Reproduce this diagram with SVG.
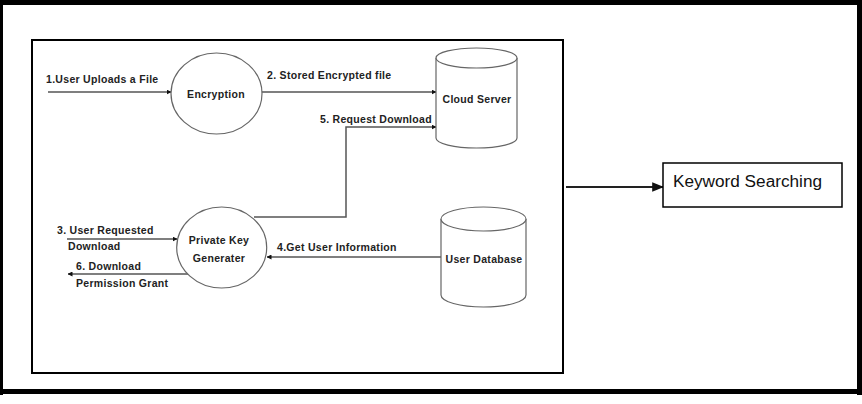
<svg xmlns="http://www.w3.org/2000/svg" width="862" height="404" viewBox="0 0 862 404">
<style>
.lbl{font-family:"Liberation Sans",Arial,sans-serif;font-size:10.5px;font-weight:bold;fill:#222;letter-spacing:0.3px}
.node{fill:#fff;stroke:#666;stroke-width:1.2}
.conn{fill:none;stroke:#555;stroke-width:1.5}
</style>
<defs>
<marker id="ah" viewBox="0 0 10 10" refX="9" refY="5" markerWidth="5" markerHeight="5" markerUnits="userSpaceOnUse" orient="auto"><path d="M0,0 L10,5 L0,10 z" fill="#111"/></marker>
<marker id="ahb" viewBox="0 0 10 10" refX="9" refY="5" markerWidth="12" markerHeight="12" markerUnits="userSpaceOnUse" orient="auto"><path d="M0,1 L10,5 L0,9 z" fill="#111"/></marker>
</defs>
<rect x="0" y="0" width="862" height="404" fill="#fff"/>
<rect x="0" y="0" width="862" height="5" fill="#000"/>
<rect x="0" y="0" width="3" height="395" fill="#000"/>
<rect x="857" y="0" width="5" height="395" fill="#000"/>
<rect x="0" y="389" width="862" height="5" fill="#000"/>
<rect x="32" y="40" width="531" height="333" fill="none" stroke="#000" stroke-width="2"/>

<g id="connectors">
<line class="conn" x1="48" y1="92" x2="171" y2="92" marker-end="url(#ah)"/>
<line class="conn" x1="262" y1="92" x2="436" y2="92" marker-end="url(#ah)"/>
<polyline class="conn" points="254,217 346,217 346,127 436,127" marker-end="url(#ah)"/>
<line class="conn" x1="67" y1="239" x2="177" y2="239" marker-end="url(#ah)"/>
<line class="conn" x1="441" y1="257" x2="267" y2="257" marker-end="url(#ah)"/>
<line class="conn" x1="188" y1="274" x2="68" y2="274" marker-end="url(#ah)"/>
<line x1="566" y1="187" x2="663" y2="187" stroke="#222" stroke-width="2" marker-end="url(#ahb)"/>
<text class="lbl" x="46" y="83">1.User Uploads a File</text>
<text class="lbl" x="267" y="79">2. Stored Encrypted file</text>
<text class="lbl" x="320" y="123">5. Request Download</text>
<text class="lbl" x="57" y="234">3. User Requested</text>
<text class="lbl" x="68" y="250">Download</text>
<text class="lbl" x="277" y="251">4.Get User Information</text>
<text class="lbl" x="76" y="270">6. Download</text>
<text class="lbl" x="76" y="287">Permission Grant</text>
</g>

<g id="encryption">
<ellipse class="node" cx="216.5" cy="93.5" rx="45.5" ry="40.5"/>
<text class="lbl" x="216" y="98" text-anchor="middle">Encryption</text>
</g>

<g id="cloud-server">
<path class="node" d="M436,58 L436,138 A40.5,10 0 0 0 517,138 L517,58"/>
<ellipse class="node" cx="476.5" cy="58" rx="40.5" ry="10"/>
<text class="lbl" x="477" y="103" text-anchor="middle">Cloud Server</text>
</g>

<g id="private-key-generator">
<ellipse class="node" cx="221.7" cy="247.5" rx="45" ry="40.5"/>
<text class="lbl" x="219" y="244" text-anchor="middle">Private Key</text>
<text class="lbl" x="219" y="262" text-anchor="middle">Generater</text>
</g>

<g id="user-database">
<path class="node" d="M441,219 L441,295 A42.5,12 0 0 0 526,295 L526,219"/>
<ellipse class="node" cx="483.5" cy="219" rx="42.5" ry="12"/>
<text class="lbl" x="484" y="263" text-anchor="middle">User Database</text>
</g>

<g id="keyword-searching">
<rect x="663" y="163" width="179" height="44" fill="#fff" stroke="#000" stroke-width="1.5"/>
<text x="673" y="187" font-family="'Liberation Sans',Arial,sans-serif" font-size="16" fill="#111" textLength="149" lengthAdjust="spacingAndGlyphs">Keyword Searching</text>
</g>
</svg>
